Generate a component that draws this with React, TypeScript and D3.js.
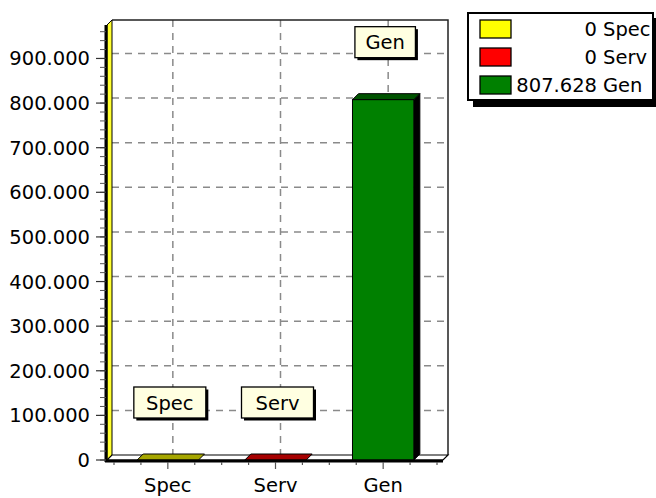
import React from "react";
import * as d3 from "d3";

const categories = ["Spec", "Serv", "Gen"];
const values = [0, 0, 807628];
const seriesColors = ["#FFFF00", "#FF0000", "#008000"];
const yTickValues = [0, 100000, 200000, 300000, 400000, 500000, 600000, 700000, 800000, 900000];

const W = 656;
const H = 498;
const FONT = "'DejaVu Sans', Verdana, sans-serif";
const FS = 19.5;

const locale = d3.formatLocale({ decimal: ",", thousands: ".", grouping: [3], currency: ["", ""] });
const fmt = locale.format(",d");

export default function App() {
  const D = 5; // wall depth
  const BD = 6; // bar depth
  const xLeft = 107;
  const xRight = 443;
  const yBottom = 460;
  const yTop = 25;
  const yMax = 975000;

  const y = d3.scaleLinear().domain([0, yMax]).range([yBottom, yTop]);
  const x = d3.scaleBand<string>().domain(categories).range([114, 437]).padding(0);
  const bw = x.bandwidth();
  const barW = bw * 0.57;

  const minorY = d3.range(0, yMax, 20000);
  const xTickPos = d3.range(0, 13).map((k) => ({ pos: 114 + (k * bw) / 4, major: k % 4 === 2 }));

  const poly = (pts: [number, number][]) => pts.map((p) => p.join(",")).join(" ");

  return (
    <svg width={W} height={H} style={{ position: "absolute", left: 0, top: 0, background: "#fff" }} fontFamily={FONT}>
      {/* horizontal gridlines on back wall */}
      {yTickValues.filter((v) => v > 0).map((v) => (
        <line key={"hg" + v} x1={xLeft + D} x2={xRight + D} y1={y(v) - D} y2={y(v) - D}
          stroke="#8a8a8a" strokeWidth={1.5} strokeDasharray="7,6" />
      ))}
      {/* vertical gridlines */}
      {categories.map((c) => (
        <line key={"vg" + c} x1={x(c)! + bw / 2 + D} x2={x(c)! + bw / 2 + D} y1={yTop - D} y2={yBottom - D}
          stroke="#8a8a8a" strokeWidth={1.5} strokeDasharray="7,6" />
      ))}
      {/* back frame */}
      <polyline points={poly([[xLeft + D, yTop - D], [xRight + D, yTop - D], [xRight + D, yBottom - D]])}
        fill="none" stroke="#222" strokeWidth={1.5} />
      {/* left wall */}
      <polygon points={poly([[xLeft, yTop], [xLeft + D, yTop - D], [xLeft + D, yBottom - D], [xLeft, yBottom]])}
        fill="#FFFF30" stroke="#000" strokeWidth={1} />
      {/* floor */}
      <polygon points={poly([[xLeft, yBottom], [xLeft + D, yBottom - D], [xRight + D, yBottom - D], [xRight, yBottom]])}
        fill="#fff" stroke="#000" strokeWidth={1.2} />
      {/* bars */}
      {categories.map((c, i) => {
        const cx = x(c)! + bw / 2;
        const x0 = cx - barW / 2;
        const x1 = cx + barW / 2;
        const yt = y(values[i]);
        const base = seriesColors[i];
        const top = d3.color(base)!.darker(1.2).formatHex();
        return (
          <g key={"bar" + c}>
            {values[i] > 0 && (
              <polygon points={poly([[x1, yt], [x1 + BD, yt - BD], [x1 + BD, yBottom - BD], [x1, yBottom]])}
                fill="#000" stroke="#000" strokeWidth={1} />
            )}
            <polygon points={poly([[x0, yt], [x0 + BD, yt - BD], [x1 + BD, yt - BD], [x1, yt]])}
              fill={top} stroke="#000" strokeWidth={1} />
            {values[i] > 0 && (
              <rect x={x0} y={yt} width={barW} height={yBottom - yt} fill={base} stroke="#000" strokeWidth={1} />
            )}
          </g>
        );
      })}
      {/* front axis lines */}
      <line x1={xLeft - 1} x2={xLeft - 1} y1={yTop} y2={yBottom + 2} stroke="#000" strokeWidth={3} />
      <line x1={xLeft - 2} x2={xRight} y1={yBottom + 1} y2={yBottom + 1} stroke="#000" strokeWidth={3} />
      {/* y minor ticks */}
      {minorY.map((v) => (
        <line key={"my" + v} x1={100} x2={xLeft - 1} y1={y(v)} y2={y(v)} stroke="#555" strokeWidth={1} />
      ))}
      {yTickValues.map((v) => (
        <g key={"yt" + v}>
          <line x1={96} x2={xLeft - 1} y1={y(v)} y2={y(v)} stroke="#333" strokeWidth={1.2} />
          <text x={90} y={y(v) + 7} textAnchor="end" fontSize={FS} fill="#000">{fmt(v)}</text>
        </g>
      ))}
      {/* x ticks */}
      {xTickPos.map((t, k) => (
        <line key={"xt" + k} x1={t.pos} x2={t.pos} y1={yBottom + 2} y2={yBottom + (t.major ? 9 : 5)} stroke="#555" strokeWidth={1.2} />
      ))}
      {categories.map((c) => (
        <text key={"xl" + c} x={x(c)! + bw / 2} y={492} textAnchor="middle" fontSize={FS} fill="#000">{c}</text>
      ))}
      {/* point labels */}
      {categories.map((c, i) => {
        const cx = x(c)! + bw / 2 + 2;
        const bottom = y(values[i]) - BD - 36;
        const tw = c.length * 11.5 + 2;
        const bwid = tw + 24;
        const bh = 31;
        return (
          <g key={"pl" + c}>
            <rect x={cx - bwid / 2 + 2.5} y={bottom - bh + 2.5} width={bwid} height={bh} fill="#000" />
            <rect x={cx - bwid / 2} y={bottom - bh} width={bwid} height={bh} fill="#FFFFE1" stroke="#000" strokeWidth={1.3} />
            <text x={cx} y={bottom - bh / 2 + 7} textAnchor="middle" fontSize={FS} fill="#000">{c}</text>
          </g>
        );
      })}
      {/* legend */}
      <rect x={473} y={18} width={185} height={89} fill="#000" />
      <rect x={468} y={13} width={185} height={87} fill="#fff" stroke="#000" strokeWidth={2} />
      {categories.map((c, i) => (
        <g key={"lg" + c}>
          <rect x={480} y={20 + i * 28} width={31} height={18} fill={seriesColors[i]} stroke="#000" strokeWidth={1.3} />
          <text x={597} y={36 + i * 28} textAnchor="end" fontSize={FS} fill="#000">{fmt(values[i])}</text>
          <text x={603} y={36 + i * 28} textAnchor="start" fontSize={FS} fill="#000">{c}</text>
        </g>
      ))}
    </svg>
  );
}
